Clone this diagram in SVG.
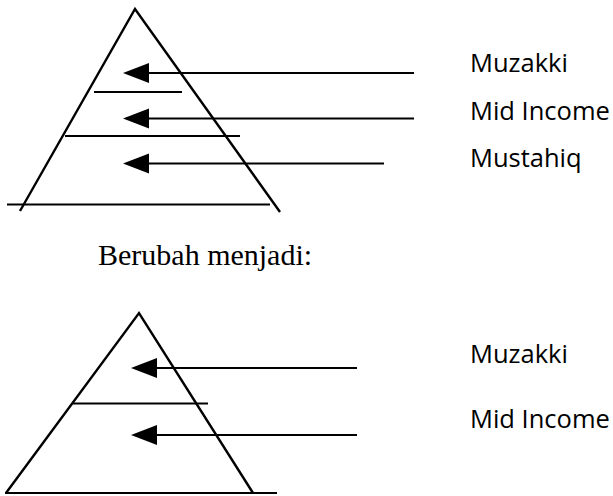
<svg xmlns="http://www.w3.org/2000/svg" width="613" height="496" viewBox="0 0 613 496">
<style>
.ln{stroke:#000;stroke-width:2;fill:none}
.leg{stroke:#000;stroke-width:2.4;fill:none}
.lbl{font-family:"Open Sans","Noto Sans",sans-serif;font-size:25.5px;fill:#000}
.cap{font-family:"Liberation Serif","Times New Roman",serif;font-size:30px;fill:#000}
.arr{stroke:#000;stroke-width:2;fill:none;marker-end:url(#head)}
</style>
<defs>
<marker id="head" markerUnits="userSpaceOnUse" markerWidth="26" markerHeight="20" refX="0" refY="10" orient="auto" overflow="visible">
<path d="M0,0 L26,10 L0,20 Z" fill="#000"/>
</marker>
</defs>
<rect width="613" height="496" fill="#fff"/>
<g id="pyramid-top">
<polyline class="leg" points="20,211 135,9 280,212"/>
<line class="ln" x1="7" y1="204.5" x2="270" y2="204.5"/>
<line class="ln" x1="94" y1="92" x2="182" y2="92"/>
<line class="ln" x1="65" y1="136" x2="240" y2="136"/>
</g>
<g id="pyramid-bottom">
<polyline class="leg" points="6,493 139,313 253,493"/>
<line class="ln" x1="5" y1="493" x2="277" y2="493"/>
<line class="ln" x1="73" y1="403.5" x2="208" y2="403.5"/>
</g>
<g id="connectors">
<line class="arr" x1="414" y1="73" x2="149" y2="73"/>
<line class="arr" x1="414" y1="118.5" x2="149" y2="118.5"/>
<line class="arr" x1="384" y1="163.5" x2="149" y2="163.5"/>
<line class="arr" x1="357" y1="368" x2="157" y2="368"/>
<line class="arr" x1="357" y1="435" x2="157" y2="435"/>
</g>
<g id="labels">
<text class="lbl" x="470" y="72">Muzakki</text>
<text class="lbl" x="470" y="120">Mid Income</text>
<text class="lbl" x="470" y="167">Mustahiq</text>
<text class="cap" x="98" y="265">Berubah menjadi:</text>
<text class="lbl" x="470" y="363">Muzakki</text>
<text class="lbl" x="470" y="428">Mid Income</text>
</g>
</svg>
